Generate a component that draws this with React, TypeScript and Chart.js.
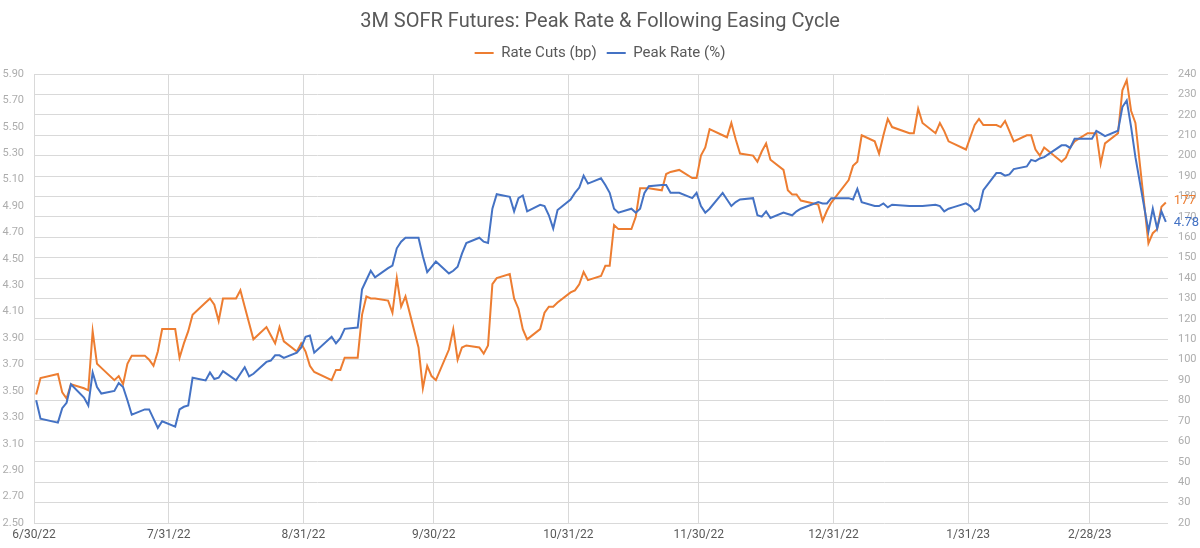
import React, { useEffect, useRef } from "react";
import { Chart, registerables } from "chart.js";

Chart.register(...registerables);

const TITLE = "3M SOFR Futures: Peak Rate & Following Easing Cycle";
const SERIES_NAMES = ["Rate Cuts (bp)", "Peak Rate (%)"];

const dates = [
  "2022-06-30", "2022-07-01",
  "2022-07-05", "2022-07-06", "2022-07-07", "2022-07-08",
  "2022-07-11", "2022-07-12", "2022-07-13", "2022-07-14", "2022-07-15",
  "2022-07-18", "2022-07-19", "2022-07-20", "2022-07-21", "2022-07-22",
  "2022-07-25", "2022-07-26", "2022-07-27", "2022-07-28", "2022-07-29",
  "2022-08-01", "2022-08-02", "2022-08-03", "2022-08-04", "2022-08-05",
  "2022-08-08", "2022-08-09", "2022-08-10", "2022-08-11", "2022-08-12",
  "2022-08-15", "2022-08-16", "2022-08-17", "2022-08-18", "2022-08-19",
  "2022-08-22", "2022-08-23", "2022-08-24", "2022-08-25", "2022-08-26",
  "2022-08-29", "2022-08-30", "2022-08-31", "2022-09-01", "2022-09-02",
  "2022-09-06", "2022-09-07", "2022-09-08", "2022-09-09",
  "2022-09-12", "2022-09-13", "2022-09-14", "2022-09-15", "2022-09-16",
  "2022-09-19", "2022-09-20", "2022-09-21", "2022-09-22", "2022-09-23",
  "2022-09-26", "2022-09-27", "2022-09-28", "2022-09-29", "2022-09-30",
  "2022-10-03", "2022-10-04", "2022-10-05", "2022-10-06", "2022-10-07",
  "2022-10-10", "2022-10-11", "2022-10-12", "2022-10-13", "2022-10-14",
  "2022-10-17", "2022-10-18", "2022-10-19", "2022-10-20", "2022-10-21",
  "2022-10-24", "2022-10-25", "2022-10-26", "2022-10-27", "2022-10-28",
  "2022-10-31", "2022-11-01", "2022-11-02", "2022-11-03", "2022-11-04",
  "2022-11-07", "2022-11-08", "2022-11-09", "2022-11-10", "2022-11-11",
  "2022-11-14", "2022-11-15", "2022-11-16", "2022-11-17", "2022-11-18",
  "2022-11-21", "2022-11-22", "2022-11-23", "2022-11-25",
  "2022-11-28", "2022-11-29", "2022-11-30", "2022-12-01", "2022-12-02",
  "2022-12-05", "2022-12-06", "2022-12-07", "2022-12-08", "2022-12-09",
  "2022-12-12", "2022-12-13", "2022-12-14", "2022-12-15", "2022-12-16",
  "2022-12-19", "2022-12-20", "2022-12-21", "2022-12-22", "2022-12-23",
  "2022-12-27", "2022-12-28", "2022-12-29", "2022-12-30",
  "2023-01-03", "2023-01-04", "2023-01-05", "2023-01-06",
  "2023-01-09", "2023-01-10", "2023-01-11", "2023-01-12", "2023-01-13",
  "2023-01-17", "2023-01-18", "2023-01-19", "2023-01-20",
  "2023-01-23", "2023-01-24", "2023-01-25", "2023-01-26", "2023-01-27",
  "2023-01-30", "2023-01-31", "2023-02-01", "2023-02-02", "2023-02-03",
  "2023-02-06", "2023-02-07", "2023-02-08", "2023-02-09", "2023-02-10",
  "2023-02-13", "2023-02-14", "2023-02-15", "2023-02-16", "2023-02-17",
  "2023-02-21", "2023-02-22", "2023-02-23", "2023-02-24",
  "2023-02-27", "2023-02-28", "2023-03-01", "2023-03-02", "2023-03-03",
  "2023-03-06", "2023-03-07", "2023-03-08", "2023-03-09", "2023-03-10",
  "2023-03-13", "2023-03-14", "2023-03-15", "2023-03-16", "2023-03-17",
];

const rateCuts = [
  83, 91,
  93, 84, 81, 88,
  86, 85, 114, 98, 96,
  90, 92, 88, 98, 102,
  102, 100, 97, 104, 115,
  115, 101, 108, 114, 122,
  128, 130, 127, 119, 130,
  130, 134, 126, 118, 110,
  116, 112, 108, 116, 109,
  104, 108, 104, 97, 94,
  90, 95, 95, 101,
  101, 122, 131, 130, 130,
  129, 123, 140, 126, 131,
  106, 86, 97, 92, 90,
  105, 115, 100, 106, 107,
  106, 103, 107, 137, 140,
  142, 130, 125, 115, 110,
  115, 123, 126, 126, 128,
  133, 134, 137, 143, 139,
  141, 146, 146, 166, 164,
  164, 170, 184, 184, 184,
  183, 191, 192, 193,
  189, 189, 200, 204, 213,
  210, 209, 216, 208, 201,
  200, 197, 202, 206, 198,
  193, 183, 181, 181, 178,
  176, 168, 173, 177,
  188, 195, 197, 210,
  207, 201, 210, 218, 214,
  211, 211, 223, 216,
  211, 216, 212, 207, 206,
  203, 209, 215, 218, 215,
  215, 214, 217, 212, 207,
  210, 210, 203, 200, 204,
  197, 199, 204, 207,
  211, 211, 211, 196, 206,
  211, 232, 237, 222, 216,
  157, 162, 164, 175, 177,
];

const peakRate = [
  3.43, 3.29,
  3.26, 3.37, 3.41, 3.55,
  3.45, 3.39, 3.64, 3.53, 3.48,
  3.50, 3.56, 3.53, 3.43, 3.32,
  3.36, 3.36, 3.29, 3.22, 3.27,
  3.23, 3.36, 3.38, 3.39, 3.60,
  3.58, 3.64, 3.59, 3.60, 3.65,
  3.58, 3.63, 3.68, 3.61, 3.63,
  3.72, 3.73, 3.77, 3.77, 3.75,
  3.79, 3.83, 3.91, 3.92, 3.79,
  3.91, 3.86, 3.90, 3.97,
  3.98, 4.27, 4.34, 4.41, 4.36,
  4.43, 4.45, 4.58, 4.63, 4.66,
  4.66, 4.52, 4.40, 4.44, 4.48,
  4.39, 4.41, 4.44, 4.54, 4.62,
  4.66, 4.63, 4.62, 4.88, 4.99,
  4.97, 4.86, 4.96, 4.98, 4.86,
  4.91, 4.90, 4.83, 4.73, 4.87,
  4.95, 5.00, 5.04, 5.13, 5.07,
  5.11, 5.06, 5.00, 4.88, 4.85,
  4.88, 4.85, 4.88, 5.00, 5.05,
  5.06, 5.06, 5.00, 5.00,
  4.96, 5.00, 4.90, 4.85, 4.88,
  5.00, 4.95, 4.90, 4.93, 4.95,
  4.96, 4.83, 4.82, 4.86, 4.81,
  4.85, 4.84, 4.83, 4.86, 4.88,
  4.93, 4.92, 4.92, 4.96,
  4.96, 4.95, 5.03, 4.93,
  4.90, 4.90, 4.92, 4.89, 4.91,
  4.90, 4.90, 4.90, 4.90,
  4.91, 4.90, 4.86, 4.88, 4.89,
  4.92, 4.90, 4.86, 4.88, 5.02,
  5.15, 5.15, 5.13, 5.14, 5.18,
  5.20, 5.25, 5.24, 5.26, 5.27,
  5.36, 5.36, 5.34, 5.41,
  5.41, 5.41, 5.47, 5.45, 5.43,
  5.47, 5.65, 5.70, 5.50, 5.27,
  4.71, 4.88, 4.73, 4.86, 4.78,
];

const xTickDates = [
  "2022-06-30", "2022-07-31", "2022-08-31", "2022-09-30", "2022-10-31",
  "2022-11-30", "2022-12-31", "2023-01-31", "2023-02-28",
];
const axisEndDate = "2023-03-17";

const leftMin = 2.5;
const leftMax = 5.9;
const leftStep = 0.2;
const rightMin = 20;
const rightMax = 240;
const rightStep = 10;

const ORANGE = "#ED7D31";
const BLUE = "#4472C4";
const FONT = "Roboto, 'Open Sans', sans-serif";

const dayMs = 86400000;
const toUtc = (s: string) => {
  const [y, m, d] = s.split("-").map(Number);
  return Date.UTC(y, m - 1, d);
};
const t0 = toUtc(dates[0]);
const dayIndex = (s: string) => Math.round((toUtc(s) - t0) / dayMs);
const shortLabel = (s: string) => {
  const [y, m, d] = s.split("-").map(Number);
  return `${m}/${d}/${String(y).slice(2)}`;
};

const endLabels = {
  id: "endLabels",
  afterDatasetsDraw(chart: any) {
    const ctx = chart.ctx;
    chart.data.datasets.forEach((ds: any, i: number) => {
      const meta = chart.getDatasetMeta(i);
      const pt = meta.data[meta.data.length - 1];
      if (!pt) return;
      const v = ds.data[ds.data.length - 1].y;
      ctx.save();
      ctx.font = `13px ${FONT}`;
      ctx.fillStyle = ds.borderColor;
      ctx.textAlign = "left";
      ctx.textBaseline = "middle";
      const txt = i === 0 ? String(Math.round(v)) : v.toFixed(2);
      ctx.fillText(txt, pt.x + 8, pt.y + (i === 0 ? -2 : 1));
      ctx.restore();
    });
  },
};

// adds a little room between the legend and the plot area
const legendGap = {
  id: "legendGap",
  beforeLayout(chart: any) {
    const lg = chart.legend;
    if (lg && !lg.__gapPatched) {
      const orig = lg.fit.bind(lg);
      lg.fit = function () {
        orig();
        this.height += 3.5;
        this.bottom = this.top + this.height;
      };
      lg.__gapPatched = true;
    }
  },
};

export default function App() {
  const ref = useRef<HTMLCanvasElement | null>(null);

  useEffect(() => {
    document.body.style.margin = "0";
    if (!ref.current) return;
    const tickDays = xTickDates.map(dayIndex);
    const labelByDay: Record<number, string> = {};
    xTickDates.forEach((s) => (labelByDay[dayIndex(s)] = shortLabel(s)));
    const endDay = dayIndex(axisEndDate);

    const chart = new Chart(ref.current, {
      type: "line",
      data: {
        datasets: [
          {
            label: SERIES_NAMES[0],
            data: dates.map((d, i) => ({ x: dayIndex(d), y: rateCuts[i] })),
            borderColor: ORANGE,
            backgroundColor: ORANGE,
            borderWidth: 2,
            pointRadius: 0,
            tension: 0,
            yAxisID: "y1",
            order: 1,
          },
          {
            label: SERIES_NAMES[1],
            data: dates.map((d, i) => ({ x: dayIndex(d), y: peakRate[i] })),
            borderColor: BLUE,
            backgroundColor: BLUE,
            borderWidth: 2,
            pointRadius: 0,
            tension: 0,
            yAxisID: "y",
            order: 0,
          },
        ],
      },
      options: {
        animation: false,
        responsive: false,
        maintainAspectRatio: false,
        layout: { padding: 0 },
        plugins: {
          tooltip: { enabled: false },
          title: {
            display: true,
            text: TITLE,
            color: "#595959",
            font: { family: FONT, size: 20, weight: "normal" },
            padding: { top: 10, bottom: 1.5 },
          },
          legend: {
            display: true,
            position: "top",
            labels: {
              boxWidth: 19,
              boxHeight: 2,
              color: "#595959",
              font: { family: FONT, size: 15 },
              padding: 10,
              generateLabels: (c: any) =>
                c.data.datasets.map((ds: any, i: number) => ({
                  text: ds.label,
                  fillStyle: ds.borderColor,
                  strokeStyle: ds.borderColor,
                  lineWidth: 0,
                  hidden: false,
                  datasetIndex: i,
                  fontColor: "#595959",
                })),
            },
          },
        },
        scales: {
          x: {
            type: "linear",
            min: -0.5,
            max: endDay + 0.5,
            afterBuildTicks: (scale: any) => {
              scale.ticks = tickDays.map((d) => ({ value: d - 0.5 }));
            },
            afterFit: (scale: any) => {
              scale.height = 25;
            },
            ticks: {
              autoSkip: false,
              maxRotation: 0,
              padding: 5,
              color: "#595959",
              font: { family: FONT, size: 12 },
              callback: (v: any) => labelByDay[Math.round(Number(v) + 0.5)] ?? "",
            },
            grid: { color: "#d9d9d9", lineWidth: 1, drawTicks: false },
            border: { display: false },
          },
          y: {
            type: "linear",
            position: "left",
            min: leftMin,
            max: leftMax,
            afterFit: (scale: any) => {
              scale.width = 34;
            },
            ticks: {
              stepSize: leftStep,
              padding: 10,
              color: "#adadad",
              font: { family: FONT, size: 11 },
              callback: (v: any) => Number(v).toFixed(2),
            },
            grid: { display: false, drawTicks: false },
            border: { display: false },
          },
          y1: {
            type: "linear",
            position: "right",
            min: rightMin,
            max: rightMax,
            afterFit: (scale: any) => {
              scale.width = 32;
            },
            ticks: {
              stepSize: rightStep,
              padding: 10,
              color: "#adadad",
              font: { family: FONT, size: 11 },
              callback: (v: any) => String(Math.round(Number(v))),
            },
            grid: { color: "#d9d9d9", lineWidth: 1, drawTicks: false },
            border: { display: false },
          },
        },
      } as any,
      plugins: [legendGap, endLabels],
    });
    return () => chart.destroy();
  }, []);

  return (
    <div style={{ width: 1200, height: 548, position: "relative", background: "#fff" }}>
      <canvas ref={ref} width={1200} height={548} />
    </div>
  );
}
